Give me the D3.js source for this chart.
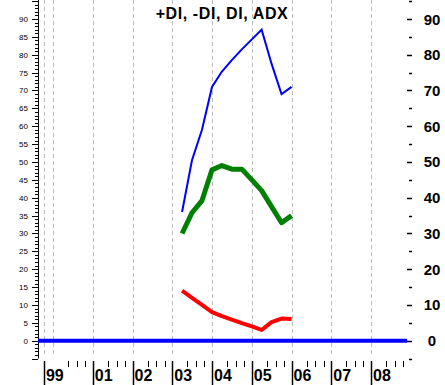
<!DOCTYPE html>
<html>
<head>
<meta charset="utf-8">
<script src="https://cdn.jsdelivr.net/npm/d3@7"></script>
<style>
  body { margin: 0; background: #fff; }
  svg { display: block; }
  text { font-family: Arial, "Liberation Sans", sans-serif; }
</style>
</head>
<body>
<svg id="chart" width="445" height="385"></svg>
<script>
// quarterly readings
var dates = ["2003-04-01","2003-07-01","2003-10-01","2004-01-01","2004-04-01","2004-07-01",
             "2004-10-01","2005-01-01","2005-04-01","2005-07-01","2005-10-01","2006-01-01"];
var plusDI  = [36, 50.5, 59, 71, 75.3, 78.5, 81.5, 84.3, 87, 77.5, 69, 71];
var adx     = [30, 35.8, 39.2, 47.8, 49, 48, 48, 45, 42, 37.5, 33, 35];
var minusDI = [14, 12, 10, 8, 6.9, 5.9, 4.9, 4, 3, 5.2, 6.2, 6.1];
var di      = [0, 0];

var yearLabels = ["99","01","02","03","04","05","06","07","08"];
var yearDates  = ["1999-10-10","2001-01-01","2002-01-01","2003-01-01","2004-01-01",
                  "2005-01-01","2006-01-01","2007-01-01","2008-01-01"];
var gridDates  = ["1999-10-10","2000-01-01","2001-01-01","2002-01-01","2003-01-01","2004-01-01",
                  "2005-01-01","2006-01-01","2007-01-01","2008-01-01"];
var minorFrac  = [0.38, 0.6, 0.81];
var leftTicks  = d3.range(0, 95, 5);
var rightTicks = d3.range(0, 100, 10);

var parse = d3.timeParse("%Y-%m-%d");
var svg = d3.select("#chart");

var x = d3.scaleTime()
  .domain([parse("2000-01-01"), parse("2008-01-01")])
  .range([53, 371]);
var y = d3.scaleLinear().domain([0, 90]).range([340.7, 19]);

var left = 38, right = 407, bottom = y(-5);

// dashed year grid
svg.selectAll("line.grid").data(gridDates).enter().append("line")
  .attr("x1", function(d){ return Math.round(x(parse(d))) + 0.5; })
  .attr("x2", function(d){ return Math.round(x(parse(d))) + 0.5; })
  .attr("y1", 0).attr("y2", 357)
  .attr("stroke", "#bbb").attr("stroke-dasharray", "4,3");

// left axis: small labels, minor ticks every 1
var gl = svg.append("g").attr("transform", "translate(" + left + ",0)");
gl.append("line").attr("x1", 0.5).attr("x2", 0.5).attr("y1", 0).attr("y2", bottom).attr("stroke", "#000");
gl.selectAll("line.minor").data(d3.range(-5, 96, 1)).enter().append("line")
  .attr("x1", function(d){ return d % 5 === 0 ? -6 : -3; }).attr("x2", 0)
  .attr("y1", function(d){ return Math.round(y(d)) + 0.5; })
  .attr("y2", function(d){ return Math.round(y(d)) + 0.5; })
  .attr("stroke", "#000");
gl.selectAll("text").data(leftTicks).enter().append("text")
  .attr("x", -10).attr("y", function(d){ return y(d) + 3; })
  .attr("text-anchor", "end").attr("font-size", 8)
  .text(function(d){ return d; });

// right axis
var gr = svg.append("g").attr("transform", "translate(" + right + ",0)");
gr.selectAll("line").data(d3.range(-5, 96, 5)).enter().append("line")
  .attr("x1", function(d){ return d % 10 === 0 ? 0 : 2; }).attr("x2", 5)
  .attr("y1", function(d){ return Math.round(y(d)) + 0.5; })
  .attr("y2", function(d){ return Math.round(y(d)) + 0.5; })
  .attr("stroke", "#000").attr("stroke-width", 1.5);
gr.selectAll("text").data(rightTicks).enter().append("text")
  .attr("x", 25).attr("y", function(d){ return y(d) + 5.5; })
  .attr("text-anchor", "middle").attr("font-size", 15).attr("font-weight", "bold")
  .text(function(d){ return d; });

// bottom: year bars, labels and minor ticks
var gb = svg.append("g");
gb.selectAll("line.year").data(yearDates).enter().append("line")
  .attr("x1", function(d){ return Math.round(x(parse(d))) + 0.5; })
  .attr("x2", function(d){ return Math.round(x(parse(d))) + 0.5; })
  .attr("y1", 361).attr("y2", 385).attr("stroke", "#000").attr("stroke-width", 1.5);
gb.selectAll("text").data(yearDates).enter().append("text")
  .attr("x", function(d){ return x(parse(d)) + 2; }).attr("y", 381)
  .attr("font-size", 16).attr("font-weight", "bold")
  .text(function(d, i){ return yearLabels[i]; });

var minor = [];
d3.range(1999, 2009).forEach(function(yr){
  minorFrac.forEach(function(f){
    var px = x(parse(yr + "-01-01")) + f * (x(parse((yr + 1) + "-01-01")) - x(parse(yr + "-01-01")));
    if (px > 46 && px < right) minor.push(px);
  });
});
gb.selectAll("line.minor").data(minor).enter().append("line")
  .attr("x1", function(d){ return Math.round(d) + 0.5; })
  .attr("x2", function(d){ return Math.round(d) + 0.5; })
  .attr("y1", 361).attr("y2", 367).attr("stroke", "#000");

// series
var line = d3.line()
  .x(function(d){ return x(d[0]); })
  .y(function(d){ return y(d[1]); });

function series(vals){
  return vals.map(function(v, i){ return [parse(dates[i]), v]; });
}

svg.append("path")
  .datum([[x.invert(left), di[0]], [x.invert(right), di[1]]])
  .attr("d", line).attr("fill", "none").attr("stroke", "#0000ff").attr("stroke-width", 4);

svg.append("path").datum(series(plusDI)).attr("d", line)
  .attr("fill", "none").attr("stroke", "#0000ff").attr("stroke-width", 2);
svg.append("path").datum(series(adx)).attr("d", line)
  .attr("fill", "none").attr("stroke", "#008000").attr("stroke-width", 5).attr("stroke-linejoin", "round");
svg.append("path").datum(series(minusDI)).attr("d", line)
  .attr("fill", "none").attr("stroke", "#ff0000").attr("stroke-width", 4).attr("stroke-linejoin", "round");

svg.append("text")
  .attr("x", 222).attr("y", 19).attr("text-anchor", "middle")
  .attr("font-size", 16).attr("font-weight", "bold").attr("letter-spacing", 0.6)
  .text("+DI, -DI, DI, ADX");
</script>
</body>
</html>
